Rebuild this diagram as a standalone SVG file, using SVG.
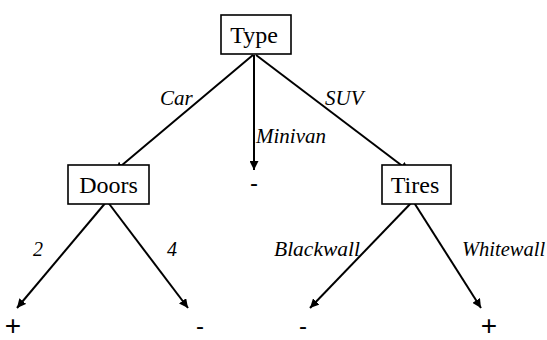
<svg xmlns="http://www.w3.org/2000/svg" width="547" height="340" viewBox="0 0 547 340">
<defs>
<marker id="ah" viewBox="0 0 10 10" refX="10" refY="5" markerWidth="4.5" markerHeight="4.5" markerUnits="strokeWidth" orient="auto">
<path d="M0,0 L10,5 L0,10 z" fill="#000"/>
</marker>
</defs>
<rect width="547" height="340" fill="#fff"/>
<g id="connectors" stroke="#000" stroke-width="2" fill="none" marker-end="url(#ah)">
<line x1="253" y1="55" x2="115" y2="171"/>
<line x1="254" y1="55" x2="254" y2="170"/>
<line x1="256" y1="55" x2="409" y2="171"/>
<line x1="107" y1="201" x2="17" y2="308"/>
<line x1="107" y1="201" x2="188" y2="308"/>
<line x1="413" y1="201" x2="310" y2="308"/>
<line x1="413" y1="201" x2="481" y2="308"/>
</g>
<g id="edge-labels" font-family="Liberation Serif, DejaVu Serif, serif" font-style="italic" font-size="20" fill="#000">
<text x="160" y="105" font-size="21">Car</text>
<text x="325" y="105" font-size="21">SUV</text>
<text x="256" y="143" font-size="21">Minivan</text>
<text x="33" y="256">2</text>
<text x="167" y="256">4</text>
<text x="274" y="256" font-size="21.5">Blackwall</text>
<text x="462" y="256" font-size="20.5">Whitewall</text>
</g>
<g id="type">
<rect x="221" y="15" width="70" height="39" fill="#fff" stroke="#000" stroke-width="1.6"/>
<text x="254" y="43" font-family="Liberation Serif, DejaVu Serif, serif" font-size="24" text-anchor="middle">Type</text>
</g>
<g id="doors">
<rect x="68" y="165" width="81" height="39" fill="#fff" stroke="#000" stroke-width="1.6"/>
<text x="108.5" y="193" font-family="Liberation Serif, DejaVu Serif, serif" font-size="24" text-anchor="middle">Doors</text>
</g>
<g id="tires">
<rect x="382" y="165" width="69" height="39" fill="#fff" stroke="#000" stroke-width="1.6"/>
<text x="415" y="193" font-family="Liberation Serif, DejaVu Serif, serif" font-size="24" text-anchor="middle">Tires</text>
</g>
<g id="leaves" font-family="Liberation Sans, Arial, sans-serif" text-anchor="middle" fill="#000">
<text id="leaf-minivan" x="254" y="191" font-size="24">-</text>
<text id="leaf-2" x="13" y="335" font-size="28">+</text>
<text id="leaf-4" x="200" y="334" font-size="24">-</text>
<text id="leaf-blackwall" x="303" y="334" font-size="24">-</text>
<text id="leaf-whitewall" x="489" y="335" font-size="28">+</text>
</g>
</svg>
